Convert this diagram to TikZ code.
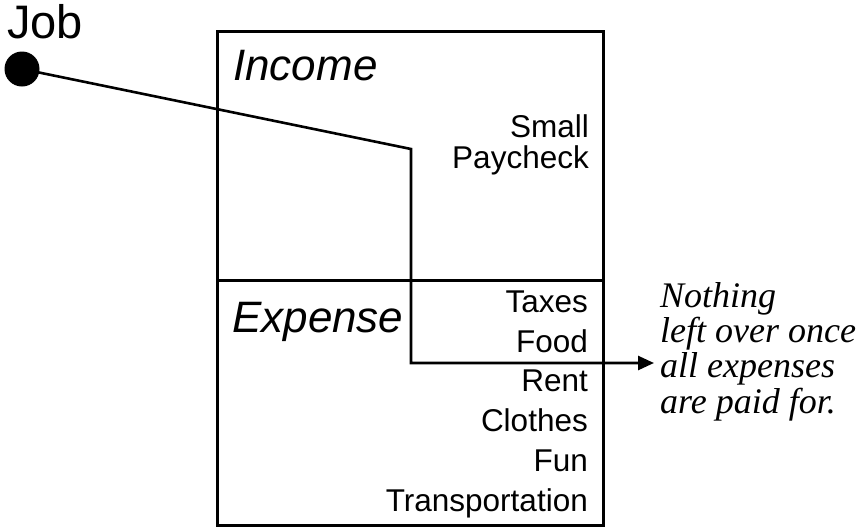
\documentclass[tikz,border=0pt]{standalone}
\usepackage{fontspec}
\setmainfont{Liberation Sans}
\newfontfamily\notefont{Liberation Serif}
\usetikzlibrary{arrows.meta}

\begin{document}
\begin{tikzpicture}[x=1pt,y=-1pt,
  panel/.style={draw, line width=2.6pt, inner sep=0pt, anchor=north west,
                minimum width=386pt},
  conn/.style={line width=2.6pt, line join=miter},
  heading/.style={inner sep=0pt, anchor=base west, font=\fontsize{44}{44}\selectfont\itshape},
  item/.style={inner sep=0pt, anchor=base east, font=\fontsize{31.5}{31.5}\selectfont},
  note/.style={inner sep=0pt, anchor=base west, align=left,
               font=\notefont\fontsize{36}{35.3}\selectfont\itshape}
]
\useasboundingbox (0,0) rectangle (862,528);

% budget box: income panel on top, expense panel below
\node[panel, minimum height=249pt] (income) at (216,30) {};
\node[panel, minimum height=245pt] (expense) at (216,279) {};

\node[heading] (incomelbl) at (233,80) {Income};
\node[heading] (expenselbl) at (232,332) {Expense};

\node[item] (small) at (589,137) {Small};
\node[item] (paycheck) at (589,168) {Paycheck};

\node[item] (taxes) at (588,312) {Taxes};
\node[item] (food) at (588,352) {Food};
\node[item] (rent) at (588,391) {Rent};
\node[item] (clothes) at (588,431) {Clothes};
\node[item] (fun) at (588,471) {Fun};
\node[item] (transport) at (588,511) {Transportation};

% the job and the money flow
\node[inner sep=0pt, anchor=base west, font=\fontsize{47}{47}\selectfont] (joblbl) at (7,38) {Job};
\node[circle, fill=black, minimum size=35pt, inner sep=0pt] (job) at (22,69) {};

\coordinate (bendA) at (411,149);
\coordinate (bendB) at (411,363);
\coordinate (tip) at (654,363);

\draw[conn, -{Triangle[length=16pt,width=14pt]}] (job.center) -- (bendA) -- (bendB) -- (tip);

% the base of a multi-line node is the baseline of its last line
\node[note] (remark) at (660,413) {Nothing\\left over once\\all expenses\\are paid for.};
\end{tikzpicture}
\end{document}
